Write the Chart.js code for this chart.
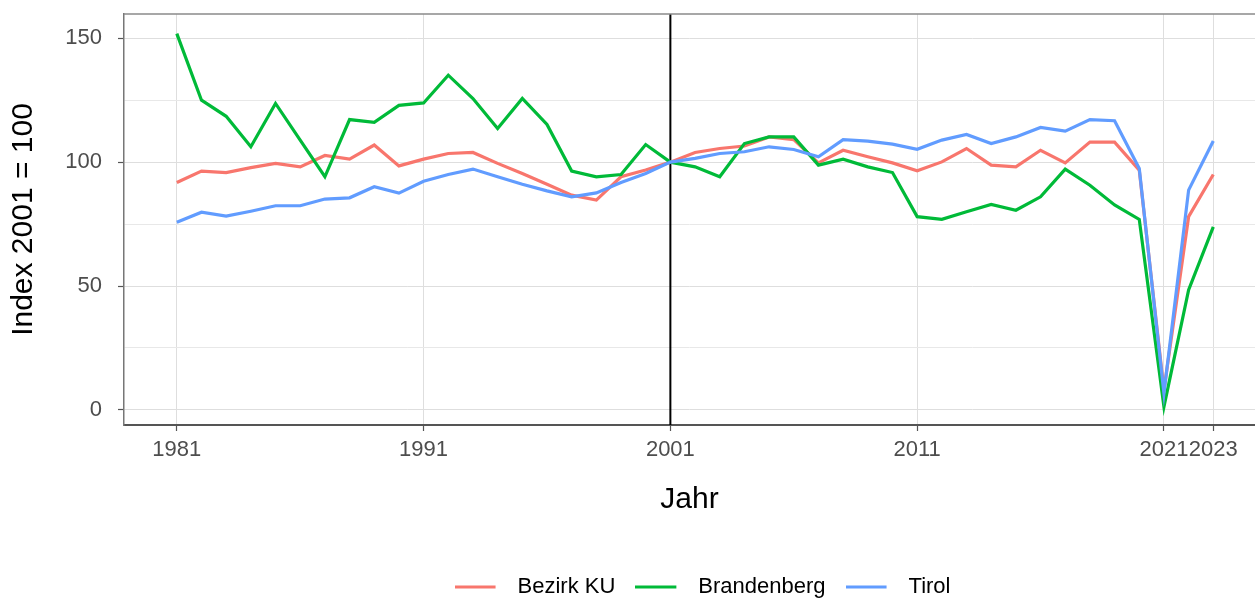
<!DOCTYPE html>
<html>
<head>
<meta charset="utf-8">
<script src="https://cdn.jsdelivr.net/npm/chart.js@4"></script>
<style>
  html, body { margin: 0; padding: 0; background: #fff; }
</style>
</head>
<body>
<canvas id="myChart" width="1255" height="600"></canvas>
<script>
const years = [1981, 1982, 1983, 1984, 1985, 1986, 1987, 1988, 1989, 1990,
  1991, 1992, 1993, 1994, 1995, 1996, 1997, 1998, 1999, 2000,
  2001, 2002, 2003, 2004, 2005, 2006, 2007, 2008, 2009, 2010,
  2011, 2012, 2013, 2014, 2015, 2016, 2017, 2018, 2019, 2020,
  2021, 2022, 2023];

const bezirkKU = [91.8, 96.4, 95.8, 97.8, 99.5, 98.1, 102.7, 101.2, 106.9, 98.5,
  101.2, 103.5, 103.9, 99.5, 95.4, 91.1, 86.7, 84.7, 94.1, 96.8,
  100, 103.9, 105.5, 106.5, 110.2, 109.1, 99.7, 104.8, 102.2, 99.7,
  96.5, 100.1, 105.5, 98.8, 98.1, 104.8, 99.7, 108.1, 108.1, 96.8,
  8, 78, 95];

const brandenberg = [151.9, 125, 118.5, 106.2, 123.7, 108.9, 94.1, 117.2, 116.1, 122.9,
  123.9, 135.1, 125.7, 113.6, 125.7, 115.2, 96.4, 94.1, 95, 107.1,
  100, 98.1, 94.1, 107.5, 110.2, 110.2, 98.8, 101.2, 98.1, 95.8,
  78, 76.9, 80, 82.9, 80.6, 86, 97.2, 90.7, 82.7, 76.9,
  1.3, 48.4, 73.9];

const tirol = [75.7, 79.8, 78.2, 80.2, 82.4, 82.4, 85.1, 85.6, 90.1, 87.5,
  92.3, 95, 97.2, 94.1, 91.1, 88.4, 86, 87.6, 91.8, 95.4,
  100, 101.5, 103.5, 104.2, 106.2, 105.1, 102.2, 109.1, 108.5, 107.3,
  105.2, 108.9, 111.2, 107.5, 110.2, 114, 112.5, 117.2, 116.7, 97.4,
  6.7, 88.7, 108.5];

const xTicks = [1981, 1991, 2001, 2011, 2021, 2023];
const yTicks = [0, 25, 50, 75, 100, 125, 150];
const refYear = 2001;

const font = '"Liberation Sans", Arial, sans-serif';

// little legend swatch: a line followed by some empty space
function swatch(color) {
  const c = document.createElement('canvas');
  c.width = 52;
  c.height = 6;
  const g = c.getContext('2d');
  g.strokeStyle = color;
  g.lineWidth = 3;
  g.beginPath();
  g.moveTo(0, 3);
  g.lineTo(41, 3);
  g.stroke();
  return c;
}

const toPoints = (vals) => years.map((y, i) => ({ x: y, y: vals[i] }));

const panelPlugin = {
  id: 'panel',
  afterLayout(chart) {
    // the original plot was a bit wider, so its legend sits right of centre
    chart.legend.left += 13;
    chart.legend.right += 13;
  },
  beforeDatasetsDraw(chart) {
    const { ctx, chartArea, scales } = chart;
    const x = scales.x.getPixelForValue(refYear);
    ctx.save();
    ctx.strokeStyle = '#000';
    ctx.lineWidth = 2;
    ctx.beginPath();
    ctx.moveTo(x, chartArea.top);
    ctx.lineTo(x, chartArea.bottom);
    ctx.stroke();
    ctx.restore();
  },
  afterDraw(chart) {
    const { ctx, chartArea } = chart;
    ctx.save();
    ctx.strokeStyle = '#8a8a8a';
    ctx.lineWidth = 1.5;
    ctx.beginPath();
    ctx.moveTo(chartArea.left, chartArea.top);
    ctx.lineTo(chartArea.right, chartArea.top);
    ctx.stroke();
    ctx.restore();
  }
};

const ctx = document.getElementById('myChart').getContext('2d');
const myChart = new Chart(ctx, {
  type: 'line',
  data: {
    datasets: [
      {
        label: 'Bezirk KU',
        data: toPoints(bezirkKU),
        borderColor: '#F8766D',
        backgroundColor: '#F8766D',
        pointStyle: swatch('#F8766D'),
        order: 3
      },
      {
        label: 'Brandenberg',
        data: toPoints(brandenberg),
        borderColor: '#00BA38',
        backgroundColor: '#00BA38',
        pointStyle: swatch('#00BA38'),
        order: 2
      },
      {
        label: 'Tirol',
        data: toPoints(tirol),
        borderColor: '#619CFF',
        backgroundColor: '#619CFF',
        pointStyle: swatch('#619CFF'),
        order: 1
      }
    ]
  },
  options: {
    responsive: false,
    animation: false,
    borderWidth: 3.2,
    elements: {
      line: { borderWidth: 3.2, tension: 0 },
      point: { radius: 0, hoverRadius: 0 }
    },
    layout: { padding: { top: 14, right: 0, bottom: -8, left: 0 } },
    plugins: {
      legend: {
        position: 'bottom',
        fullSize: false,
        labels: {
          usePointStyle: true,
          pointStyleWidth: 52,
          padding: 20,
          color: '#000',
          font: { family: font, size: 22 },
          sort: (a, b) => a.datasetIndex - b.datasetIndex
        }
      },
      tooltip: { enabled: false }
    },
    scales: {
      x: {
        type: 'linear',
        min: 1978.86,
        max: 2024.69,
        afterBuildTicks: (s) => { s.ticks = xTicks.map((v) => ({ value: v })); },
        afterFit: (s) => {
          s.height = 131;
          s.paddingLeft = 0;
          s.paddingRight = 0;
        },
        ticks: {
          autoSkip: false,
          maxRotation: 0,
          minRotation: 0,
          padding: 6,
          color: '#4d4d4d',
          font: { family: font, size: 22 },
          callback: (v) => String(v)
        },
        grid: {
          color: '#dedede',
          lineWidth: 1,
          tickLength: 6,
          tickColor: '#555',
          tickWidth: 1.2
        },
        border: { color: '#555', width: 2 },
        title: {
          display: true,
          text: 'Jahr',
          color: '#000',
          font: { family: font, size: 30 },
          padding: { top: 0, bottom: 38 }
        }
      },
      y: {
        min: -6.1,
        max: 159.8,
        afterBuildTicks: (s) => { s.ticks = yTicks.map((v) => ({ value: v })); },
        afterFit: (s) => {
          s.width = 124;
          s.paddingTop = 0;
          s.paddingBottom = 0;
        },
        ticks: {
          padding: 16,
          color: '#4d4d4d',
          font: { family: font, size: 22 },
          callback: (v) => (v % 50 === 0 ? String(v) : '')
        },
        grid: {
          color: (c) => (c.tick && c.tick.value % 50 === 0 ? '#dedede' : '#e8e8e8'),
          lineWidth: 1,
          tickLength: 6,
          tickColor: (c) => (c.tick && c.tick.value % 50 === 0 ? '#555' : 'rgba(0,0,0,0)'),
          tickWidth: 1.2
        },
        border: { color: '#777', width: 1.5 },
        title: {
          display: true,
          text: 'Index 2001 = 100',
          color: '#000',
          font: { family: font, size: 30 },
          padding: { top: 6, bottom: 0 }
        }
      }
    }
  },
  plugins: [panelPlugin]
});
</script>
</body>
</html>
